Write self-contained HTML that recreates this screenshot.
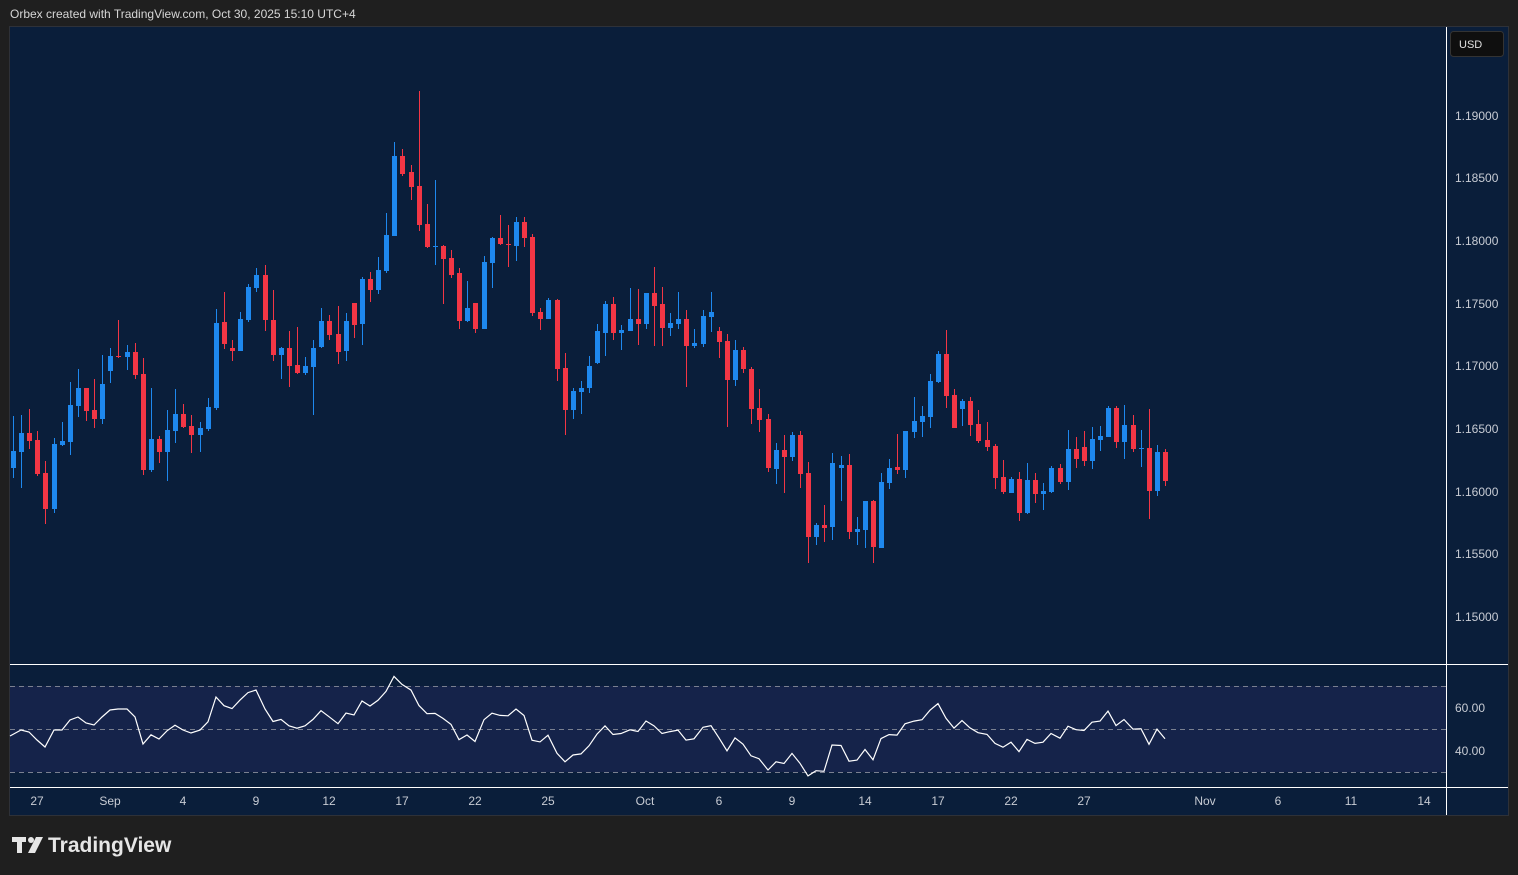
<!DOCTYPE html>
<html><head><meta charset="utf-8"><style>
html,body{margin:0;padding:0;background:#1e1e1e;width:1518px;height:875px;overflow:hidden;font-family:"Liberation Sans",sans-serif}
svg{position:absolute;left:0;top:0}
</style></head><body>
<svg id="s" width="1518" height="875" xmlns="http://www.w3.org/2000/svg">
<rect x="0" y="0" width="1518" height="875" fill="#1f1f1f"/>
<text x="10" y="18" fill="#d6d6d6" font-size="12" font-family="Liberation Sans, sans-serif">Orbex created with TradingView.com, Oct 30, 2025 15:10 UTC+4</text>
<rect x="9.5" y="26.5" width="1499" height="789" fill="#0a1e3a" stroke="#2e3138" stroke-width="1"/>
<rect x="10" y="686" width="1436" height="86" fill="#15234a"/>
<g stroke="#7a8090" stroke-width="1" stroke-dasharray="5,4">
<line x1="10" y1="686.5" x2="1446" y2="686.5"/>
<line x1="10" y1="729.5" x2="1446" y2="729.5"/>
<line x1="10" y1="772.5" x2="1446" y2="772.5"/>
</g>
<line x1="10" y1="664.5" x2="1508" y2="664.5" stroke="#fff"/>
<line x1="10" y1="787.5" x2="1508" y2="787.5" stroke="#fff"/>
<line x1="1446.5" y1="27" x2="1446.5" y2="815" stroke="#fff"/>
<rect x="1450.5" y="31.5" width="53" height="25" rx="3" fill="#0f0f0f" stroke="#333"/>
<text x="1459" y="48" fill="#e0e0e0" font-size="11">USD</text>
<g fill="#c8ccd4" font-size="12">
<text x="1455" y="120">1.19000</text><text x="1455" y="182">1.18500</text>
<text x="1455" y="245">1.18000</text><text x="1455" y="308">1.17500</text>
<text x="1455" y="370">1.17000</text><text x="1455" y="433">1.16500</text>
<text x="1455" y="496">1.16000</text><text x="1455" y="558">1.15500</text>
<text x="1455" y="621">1.15000</text>
<text x="1455" y="712">60.00</text><text x="1455" y="755">40.00</text>
</g>
<g fill="#c8ccd4" font-size="12" text-anchor="middle">
<text x="37" y="805">27</text><text x="110" y="805">Sep</text><text x="183" y="805">4</text>
<text x="256" y="805">9</text><text x="329" y="805">12</text><text x="402" y="805">17</text>
<text x="475" y="805">22</text><text x="548" y="805">25</text><text x="645" y="805">Oct</text>
<text x="719" y="805">6</text><text x="792" y="805">9</text><text x="865" y="805">14</text>
<text x="938" y="805">17</text><text x="1011" y="805">22</text><text x="1084" y="805">27</text>
<text x="1205" y="805">Nov</text><text x="1278" y="805">6</text><text x="1351" y="805">11</text>
<text x="1424" y="805">14</text>
</g>
<g fill="#e6e6e6">
<rect x="12" y="837" width="14" height="5"/><rect x="17" y="837" width="5" height="16"/>
<circle cx="31" cy="840" r="3"/><polygon points="36,837 43,837 35,853 28,853"/>
</g>
<text x="48" y="852" fill="#e6e6e6" font-size="21" font-weight="bold">TradingView</text>
<g id="c"></g>
<polyline id="rsi" fill="none" stroke="#ffffff" stroke-width="1.2" points=""/>
</svg>
<script>
var d=[
[451,468,416,478,'b'],[433,452,415,488,'b'],[433,441,409,449,'r'],[440,474,431,476,'r'],[473,509,461,524,'r'],
[444,509,438,513,'b'],[441,445,422,446,'b'],[405,442,382,455,'b'],[388,406,369,417,'b'],[388,411,388,421,'r'],
[410,419,379,428,'r'],[384,419,355,424,'b'],[356,371,348,383,'b'],[356,357,320,358,'r'],[352,357,345,370,'b'],
[352,375,343,379,'r'],[374,470,358,475,'r'],[439,470,388,472,'b'],[439,452,436,463,'r'],[430,452,410,481,'b'],
[414,431,389,443,'b'],[414,427,404,428,'r'],[426,435,415,453,'r'],[428,435,422,452,'b'],[407,429,398,431,'b'],
[323,408,309,410,'b'],[322,344,292,349,'r'],[348,351,340,361,'r'],[319,351,312,351,'b'],[287,320,284,322,'b'],
[275,288,268,292,'b'],[275,320,265,331,'r'],[320,355,290,361,'r'],[348,355,347,379,'b'],[348,366,331,387,'r'],
[365,373,327,374,'r'],[366,373,357,375,'b'],[348,367,340,415,'b'],[321,347,308,348,'b'],[321,335,315,340,'r'],
[334,352,306,364,'r'],[321,351,313,361,'b'],[303,325,303,338,'r'],[279,324,277,345,'b'],[279,290,272,302,'r'],
[270,290,257,294,'b'],[235,271,213,273,'b'],[156,236,142,236,'b'],[156,174,149,176,'r'],[172,187,165,200,'r'],
[186,225,91,231,'r'],[224,247,204,248,'r'],[246,247,180,265,'b'],[246,259,245,304,'r'],[258,275,250,278,'r'],
[273,321,268,329,'r'],[308,321,281,322,'b'],[303,329,303,333,'r'],[262,329,256,329,'b'],[238,263,237,288,'b'],
[238,244,215,245,'r'],[244,245,225,267,'r'],[222,246,217,261,'b'],[222,238,217,247,'r'],[237,313,234,316,'r'],
[312,319,308,330,'r'],[300,319,298,319,'b'],[300,369,299,381,'r'],[368,410,353,435,'r'],[391,410,388,419,'b'],
[388,392,381,414,'b'],[366,388,356,393,'b'],[331,363,324,364,'b'],[304,333,301,356,'b'],[304,333,297,340,'r'],
[330,333,325,350,'b'],[319,331,288,331,'b'],[319,324,289,345,'r'],[293,324,293,329,'b'],[293,306,267,346,'r'],
[304,328,287,346,'r'],[323,328,313,336,'b'],[319,324,292,329,'b'],[319,346,310,387,'r'],[343,346,329,348,'b'],
[316,344,310,347,'b'],[312,317,292,332,'b'],[331,342,327,358,'r'],[341,380,334,427,'r'],[350,380,340,386,'b'],
[350,369,347,373,'r'],[369,409,367,424,'r'],[408,420,389,432,'r'],[419,468,414,472,'r'],[450,469,443,484,'b'],
[450,457,435,493,'r'],[435,457,432,461,'b'],[435,474,431,488,'r'],[473,537,462,563,'r'],[525,537,523,545,'b'],
[525,528,505,542,'r'],[463,527,453,540,'b'],[465,468,456,501,'b'],[465,532,454,539,'r'],[529,532,517,545,'b'],
[501,530,501,548,'b'],[501,547,500,563,'r'],[482,548,473,548,'b'],[468,483,459,489,'b'],[467,470,434,474,'r'],
[431,470,431,478,'b'],[421,432,397,438,'b'],[416,422,406,437,'b'],[381,417,374,428,'b'],[354,382,351,383,'b'],
[354,396,330,408,'r'],[395,428,389,428,'r'],[401,409,399,426,'b'],[401,425,397,436,'r'],[424,441,410,443,'r'],
[440,447,422,451,'r'],[446,478,444,489,'r'],[477,492,460,494,'r'],[479,493,477,493,'b'],[479,513,472,521,'r'],
[480,513,463,514,'b'],[480,494,473,503,'r'],[491,494,483,510,'b'],[468,492,466,493,'b'],[468,482,464,484,'r'],
[449,482,430,490,'b'],[449,459,437,468,'r'],[447,461,431,466,'r'],[439,461,427,469,'b'],[436,440,426,451,'b'],
[408,437,406,437,'b'],[408,442,406,448,'r'],[425,442,405,459,'b'],[425,449,415,452,'r'],[448,449,430,467,'b'],
[448,491,409,519,'r'],[452,491,445,496,'b'],[452,481,449,486,'r']];
var g=document.getElementById('c'),h='';
var closes=[],X=[];
for(var i=0;i<d.length;i++){var x=Math.round(13+8.113*i),c=d[i],col=c[4]=='b'?'#1e88ee':'#f23645';X.push(x);
h+='<rect x="'+x+'" y="'+c[2]+'" width="1" height="'+(c[3]-c[2])+'" fill="'+col+'"/>';
var bh=Math.max(1,c[1]-c[0]);
h+='<rect x="'+(x-2)+'" y="'+c[0]+'" width="5" height="'+bh+'" fill="'+col+'"/>';
closes.push(c[4]=='b'?c[0]:c[1]);}
g.innerHTML=h;
var early=[736,730,732,740,747,730,730,720,717,723,725,717,710,709,709,717,744];
var ag=5,al=5,pts=[];
for(var i=0;i<closes.length;i++){
 var diff=i>0?closes[i-1]-closes[i]:0;
 var gn=diff>0?diff:0,ls=diff<0?-diff:0;
 ag=(ag*13+gn)/14;al=(al*13+ls)/14;
 var rsi=100-100/(1+ag/al);
 var y=729-(rsi-50)*2.15;
 if(i<early.length) y=early[i];
 y=Math.max(666,Math.min(786,y));
 pts.push((i==0?10:X[i])+','+y.toFixed(1));}
document.getElementById('rsi').setAttribute('points',pts.join(' '));
</script>
</body></html>
